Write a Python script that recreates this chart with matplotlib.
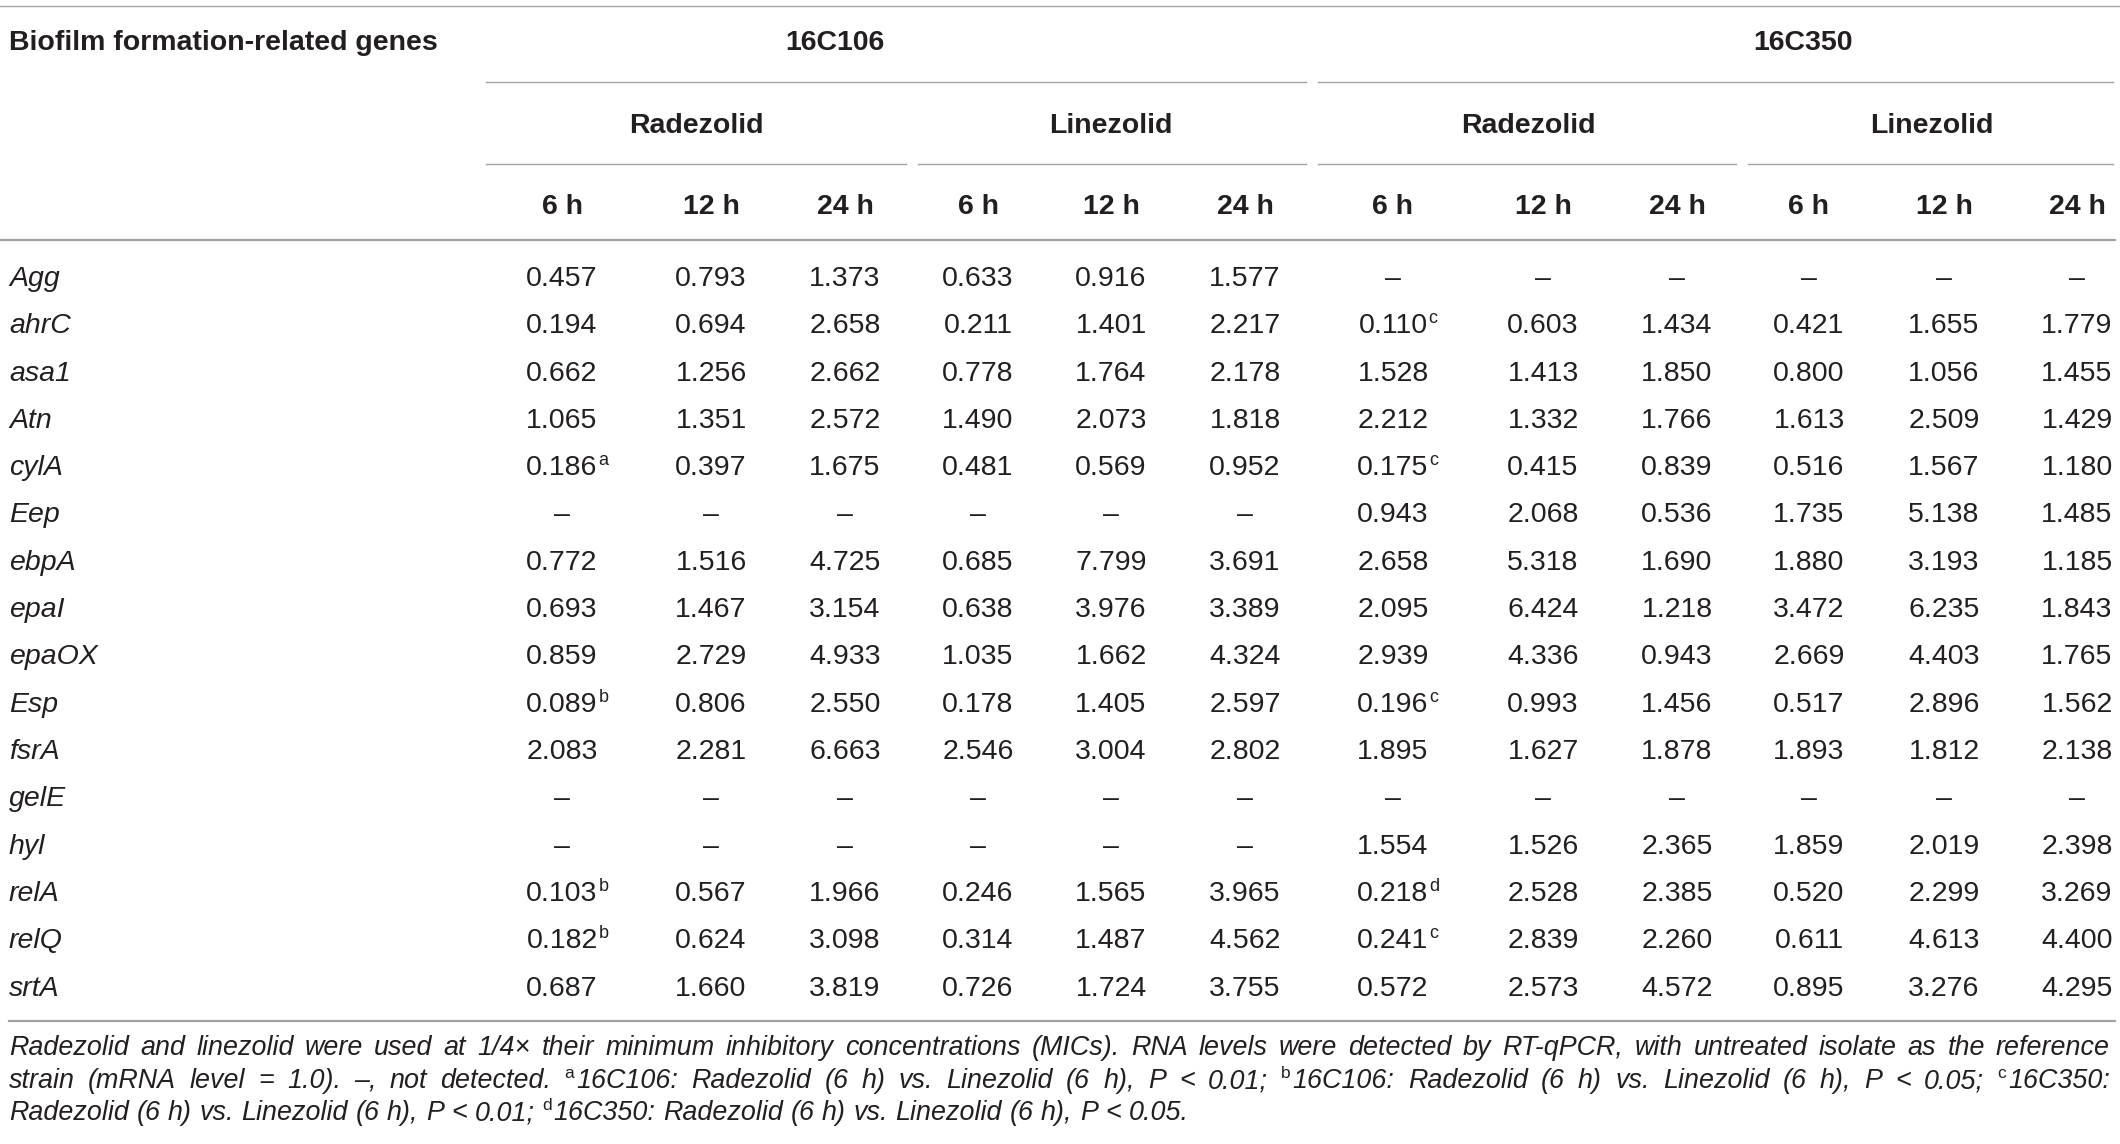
import matplotlib
matplotlib.use("Agg")
import matplotlib.pyplot as plt

plt.rcParams['font.family'] = ['Liberation Sans', 'DejaVu Sans']

# gene rows
genes = ['Agg', 'ahrC', 'asa1', 'Atn', 'cylA', 'Eep', 'ebpA', 'epaI', 'epaOX',
         'Esp', 'fsrA', 'gelE', 'hyl', 'relA', 'relQ', 'srtA']

# relative mRNA levels, 6 h / 12 h / 24 h ; None = not detected ; '^x' = footnote mark
rad_16C106 = [
    ['0.457', '0.793', '1.373'], ['0.194', '0.694', '2.658'], ['0.662', '1.256', '2.662'],
    ['1.065', '1.351', '2.572'], ['0.186^a', '0.397', '1.675'], [None, None, None],
    ['0.772', '1.516', '4.725'], ['0.693', '1.467', '3.154'], ['0.859', '2.729', '4.933'],
    ['0.089^b', '0.806', '2.550'], ['2.083', '2.281', '6.663'], [None, None, None],
    [None, None, None], ['0.103^b', '0.567', '1.966'], ['0.182^b', '0.624', '3.098'],
    ['0.687', '1.660', '3.819']]
lin_16C106 = [
    ['0.633', '0.916', '1.577'], ['0.211', '1.401', '2.217'], ['0.778', '1.764', '2.178'],
    ['1.490', '2.073', '1.818'], ['0.481', '0.569', '0.952'], [None, None, None],
    ['0.685', '7.799', '3.691'], ['0.638', '3.976', '3.389'], ['1.035', '1.662', '4.324'],
    ['0.178', '1.405', '2.597'], ['2.546', '3.004', '2.802'], [None, None, None],
    [None, None, None], ['0.246', '1.565', '3.965'], ['0.314', '1.487', '4.562'],
    ['0.726', '1.724', '3.755']]
rad_16C350 = [
    [None, None, None], ['0.110^c', '0.603', '1.434'], ['1.528', '1.413', '1.850'],
    ['2.212', '1.332', '1.766'], ['0.175^c', '0.415', '0.839'], ['0.943', '2.068', '0.536'],
    ['2.658', '5.318', '1.690'], ['2.095', '6.424', '1.218'], ['2.939', '4.336', '0.943'],
    ['0.196^c', '0.993', '1.456'], ['1.895', '1.627', '1.878'], [None, None, None],
    ['1.554', '1.526', '2.365'], ['0.218^d', '2.528', '2.385'], ['0.241^c', '2.839', '2.260'],
    ['0.572', '2.573', '4.572']]
lin_16C350 = [
    [None, None, None], ['0.421', '1.655', '1.779'], ['0.800', '1.056', '1.455'],
    ['1.613', '2.509', '1.429'], ['0.516', '1.567', '1.180'], ['1.735', '5.138', '1.485'],
    ['1.880', '3.193', '1.185'], ['3.472', '6.235', '1.843'], ['2.669', '4.403', '1.765'],
    ['0.517', '2.896', '1.562'], ['1.893', '1.812', '2.138'], [None, None, None],
    ['1.859', '2.019', '2.398'], ['0.520', '2.299', '3.269'], ['0.611', '4.613', '4.400'],
    ['0.895', '3.276', '4.295']]

strains = ['16C106', '16C350']
drugs = ['Radezolid', 'Linezolid']
times = ['6 h', '12 h', '24 h']
row_label = 'Biofilm formation-related genes'

footnote = [
    'Radezolid and linezolid were used at 1/4\u00d7 their minimum inhibitory concentrations (MICs). '
    'RNA levels were detected by RT-qPCR, with untreated isolate as the reference',
    'strain (mRNA level = 1.0). \u2013, not detected. ^a16C106: Radezolid (6 h) vs. Linezolid (6 h), '
    'P < 0.01; ^b16C106: Radezolid (6 h) vs. Linezolid (6 h), P < 0.05; ^c16C350:',
    'Radezolid (6 h) vs. Linezolid (6 h), P < 0.01; ^d16C350: Radezolid (6 h) vs. Linezolid (6 h), P < 0.05.',
]

# layout in pixels
W, H = 2120, 1144
col_x = [562, 711, 845, 978, 1111, 1245, 1393, 1543, 1677, 1809, 1944, 2077]
strain_x = [835, 1803]
strain_line = [(486, 1306), (1318, 2113)]
drug_x = [696, 1111, 1528, 1932]
drug_line = [(486, 906), (918, 1306), (1318, 1736), (1748, 2113)]
y_row1, y_row2, y_row3 = 50, 133, 214   # baselines
y0, dy = 286, 47.3
left = 9
fs = 20.5
ink = '#231f20'
rule = '#a3a3a3'

fig = plt.figure(figsize=(W / 100, H / 100), dpi=100)
ax = fig.add_axes([0, 0, 1, 1])
ax.set_xlim(0, W)
ax.set_ylim(H, 0)
ax.axis('off')

# rules
ax.plot([0, W], [6, 6], color=rule, lw=1.0)
for a, b in strain_line:
    ax.plot([a, b], [82, 82], color=rule, lw=1.0)
for a, b in drug_line:
    ax.plot([a, b], [164, 164], color=rule, lw=1.0)
ax.plot([0, 2115], [240, 240], color=rule, lw=1.6)
ax.plot([9, 2115], [1021, 1021], color=rule, lw=1.6)

# header
ax.text(left, y_row1, row_label, fontsize=fs, fontweight='bold', color=ink, ha='left', va='baseline')
for s, x in zip(strains, strain_x):
    ax.text(x, y_row1, s, fontsize=fs, fontweight='bold', color=ink, ha='center', va='baseline')
for i, x in enumerate(drug_x):
    ax.text(x, y_row2, drugs[i % 2], fontsize=fs, fontweight='bold', color=ink, ha='center', va='baseline')
for i, x in enumerate(col_x):
    ax.text(x, y_row3, times[i % 3], fontsize=fs, fontweight='bold', color=ink, ha='center', va='baseline')

# body
groups = [rad_16C106, lin_16C106, rad_16C350, lin_16C350]
for r, g in enumerate(genes):
    y = y0 + r * dy
    ax.text(left, y, g, fontsize=fs, style='italic', color=ink, ha='left', va='baseline')
    for gi, grp in enumerate(groups):
        for ti, v in enumerate(grp[r]):
            x = col_x[gi * 3 + ti]
            if v is None:
                ax.text(x, y, '\u2013', fontsize=fs, color=ink, ha='center', va='baseline')
                continue
            num, _, sup = v.partition('^')
            ax.text(x, y, num, fontsize=fs, color=ink, ha='center', va='baseline')
            if sup:
                # superscript just after the centred number
                tw = ax.text(0, 0, num, fontsize=fs)
                fig.canvas.draw()
                half = tw.get_window_extent(fig.canvas.get_renderer()).width / 2
                tw.remove()
                ax.text(x + half + 1, y - 10, sup, fontsize=13, color=ink, ha='left', va='baseline')

# footnote, justified like the source
fig.canvas.draw()
renderer = fig.canvas.get_renderer()
fn_fs = 19.4
fn_sup = 12.5
fn_base = [1055, 1088, 1120]
fn_right = 2110


def word_parts(w):
    if w.startswith('^'):
        return w[1], w[2:]
    return '', w


def width_of(s, size, style):
    tmp = ax.text(0, 0, s, fontsize=size, style=style)
    w = tmp.get_window_extent(renderer).width
    tmp.remove()
    return w


space = width_of('a a', fn_fs, 'italic') - width_of('aa', fn_fs, 'italic')
for li, line in enumerate(footnote):
    words = line.split(' ')
    widths = []
    for w in words:
        sup, body = word_parts(w)
        wsum = width_of(body, fn_fs, 'italic')
        if sup:
            wsum += width_of(sup, fn_sup, 'normal') + 2
        widths.append(wsum)
    if li < len(footnote) - 1:
        gap = (fn_right - left - sum(widths)) / (len(words) - 1)
    else:
        gap = space
    x = left
    for w, wd in zip(words, widths):
        sup, body = word_parts(w)
        xx = x
        if sup:
            ax.text(xx, fn_base[li] - 10, sup, fontsize=fn_sup, color=ink, ha='left', va='baseline')
            xx += width_of(sup, fn_sup, 'normal') + 2
        ax.text(xx, fn_base[li], body, fontsize=fn_fs, style='italic', color=ink, ha='left', va='baseline')
        x += wd + gap

fig.savefig('out.png', dpi=100)
